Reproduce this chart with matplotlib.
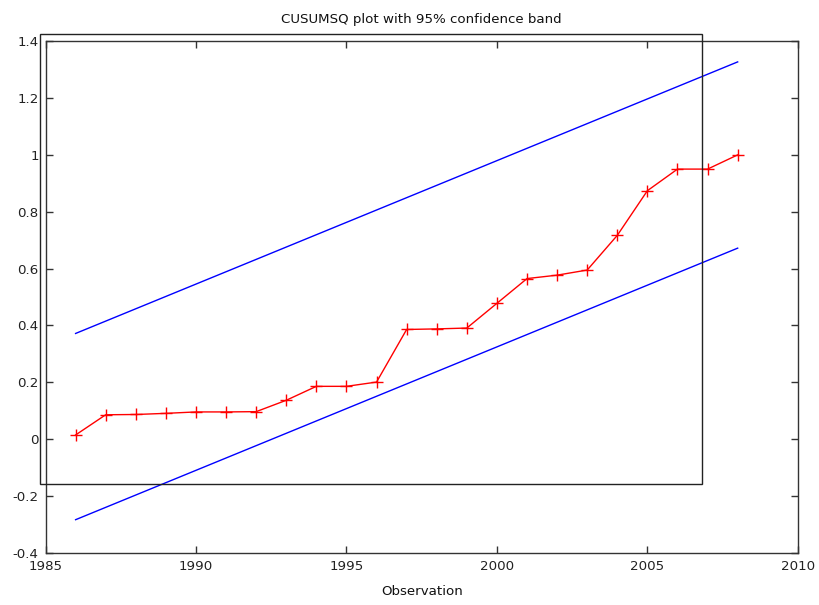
import matplotlib
matplotlib.use("Agg")
import matplotlib.pyplot as plt
from matplotlib.patches import Rectangle

years = [1986, 1987, 1988, 1989, 1990, 1991, 1992, 1993, 1994, 1995, 1996, 1997,
         1998, 1999, 2000, 2001, 2002, 2003, 2004, 2005, 2006, 2007, 2008]
cusumsq = [0.015, 0.086, 0.087, 0.091, 0.096, 0.096, 0.097, 0.137, 0.186, 0.186,
           0.201, 0.386, 0.388, 0.391, 0.478, 0.565, 0.577, 0.595, 0.717, 0.874,
           0.950, 0.950, 1.000]
band_x = [1986, 2008]
band_upper = [0.372, 1.327]
band_lower = [-0.283, 0.672]

xticks = [1985, 1990, 1995, 2000, 2005, 2010]
yticks = [-0.4, -0.2, 0, 0.2, 0.4, 0.6, 0.8, 1.0, 1.2, 1.4]
ytick_labels = ["-0.4", "-0.2", "0", "0.2", "0.4", "0.6", "0.8", "1", "1.2", "1.4"]

plt.rcParams['font.family'] = ['DejaVu Sans']
fig = plt.figure(figsize=(8.2, 6.05), dpi=100)
ax = fig.add_axes([0.0555, 0.086, 0.9175, 0.846])

ax.plot(band_x, band_upper, color='#0000ff', lw=1.0)
ax.plot(band_x, band_lower, color='#0000ff', lw=1.0)
ax.plot(years, cusumsq, color='#ff0000', lw=1.0, marker='+', markersize=9,
        markeredgewidth=1.0)

ax.set_xlim(1985, 2010)
ax.set_ylim(-0.4, 1.4)
ax.set_xticks(xticks)
ax.set_yticks(yticks)
ax.set_yticklabels(ytick_labels)
ax.tick_params(direction='in', length=5, width=1, color='#333333',
               top=True, right=True, labelsize=9.6, labelcolor='#222222', pad=5)
for s in ax.spines.values():
    s.set_color('#333333')
    s.set_linewidth(1.0)

ax.set_title("CUSUMSQ plot with 95% confidence band", fontsize=9.6, pad=13, color='#111111')
ax.set_xlabel("Observation", fontsize=9.6, labelpad=9, color='#111111')

rect = Rectangle((0.0484, 0.2), 0.856 - 0.0484, 0.943 - 0.2, transform=fig.transFigure,
                 fill=False, edgecolor='#222222', lw=1.0)
fig.patches.append(rect)

fig.savefig("out.png", dpi=100)
